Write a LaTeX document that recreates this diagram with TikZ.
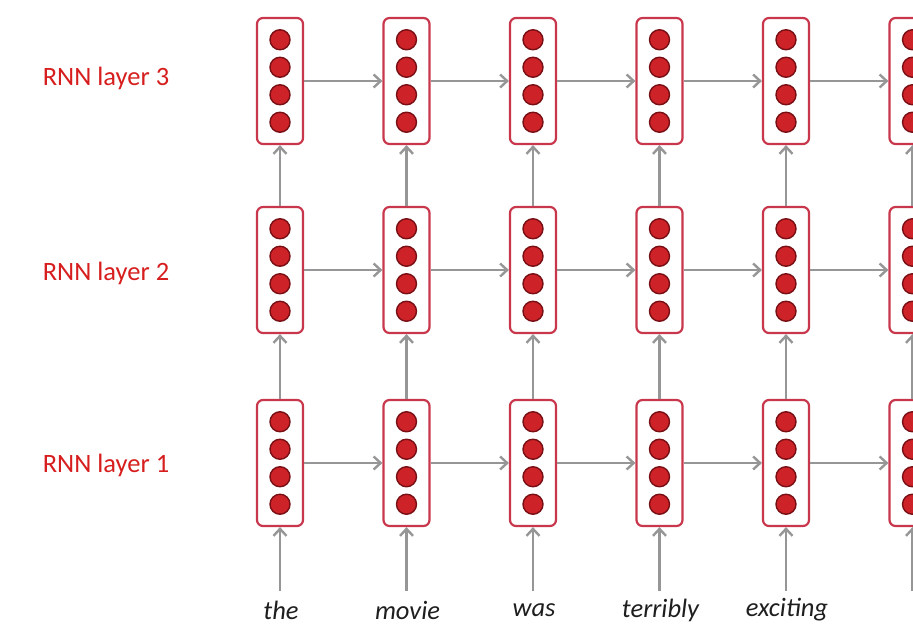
\documentclass[tikz,border=0pt]{standalone}
\usepackage{fontspec}
\setmainfont{Carlito}
\usetikzlibrary{arrows.meta, calc, positioning}
\definecolor{cellred}{RGB}{200,55,75}
\definecolor{unitfill}{RGB}{205,35,40}
\definecolor{unitdraw}{RGB}{120,15,20}
\definecolor{lblred}{RGB}{215,30,30}
\definecolor{arrgray}{RGB}{150,150,150}
\definecolor{wordgray}{RGB}{30,30,30}

\begin{document}
\begin{tikzpicture}[
    x=1pt, y=-1pt,
    >={Straight Barb[length=7pt, width=13pt]},
    font=\fontsize{26.5}{31}\selectfont,
    cell/.style  = {rectangle, draw=cellred, fill=white, line width=2.2pt,
                    rounded corners=6pt, minimum width=46pt, minimum height=126pt, inner sep=0pt},
    unit/.style  = {circle, draw=unitdraw, fill=unitfill, line width=1.4pt,
                    minimum size=20pt, inner sep=0pt},
    arr/.style   = {->, line width=2.4pt, arrgray},
    layer/.style = {text=lblred},
    word/.style  = {text=wordgray, inner sep=1pt, font=\fontsize{26.5}{31}\selectfont\itshape},
]
\clip (0,0) rectangle (913,626);

% ---------------- cells ----------------
\foreach \r/\y in {1/463, 2/270, 3/81} {
  \foreach \c in {1,...,6} {
    \node[cell] (c\r\c) at ({280+126.5*(\c-1)}, \y) {};
    \foreach \k/\dy in {1/-41.25, 2/-13.75, 3/13.75, 4/41.25}
      \node[unit] (u\r\c\k) at ($(c\r\c)+(0,\dy)$) {};
  }
}

% ---------------- layer labels ----------------
\node[layer] (l3) at (106,78) {RNN layer 3};
\node[layer] (l2) at (106,273) {RNN layer 2};
\node[layer] (l1) at (106,465) {RNN layer 1};

% ---------------- connections ----------------
\foreach \r in {1,2,3}
  \foreach \c/\n in {1/2, 2/3, 3/4, 4/5, 5/6}
    \draw[arr] (c\r\c) -- (c\r\n);
\foreach \c in {1,...,6} {
  \draw[arr] (c1\c) -- (c2\c);
  \draw[arr] (c2\c) -- (c3\c);
  \coordinate (in\c) at ({280+126.5*(\c-1)}, 591);
  \draw[arr] (in\c) -- (c1\c);
}

% ---------------- input words ----------------
\foreach \c/\w in {1/the, 2/movie, 3/was, 4/terribly, 5/exciting}
  \node[word] (w\c) at ({281+126.5*(\c-1)}, 610) {\w};

\end{tikzpicture}
\end{document}
